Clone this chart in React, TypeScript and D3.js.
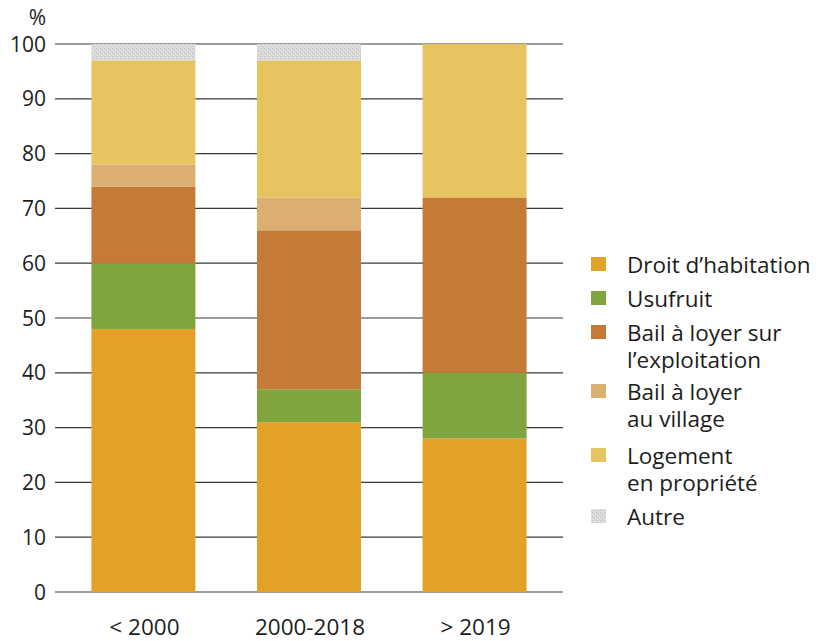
import React from "react";
import * as d3 from "d3";

const categories = ["< 2000", "2000-2018", "> 2019"];
const seriesKeys = ["droit", "usufruit", "bailExpl", "bailVillage", "logement", "autre"];
const seriesLabels = [
  ["Droit d\u2019habitation"],
  ["Usufruit"],
  ["Bail à loyer sur", "l\u2019exploitation"],
  ["Bail à loyer", "au village"],
  ["Logement", "en propriété"],
  ["Autre"],
];
const seriesColors = ["#E3A127", "#80A53E", "#C67A37", "#DAAF71", "#E6C45F", "#D6D6D4"];

// Shares (%) per period, one array per series, in category order
const droit = [48, 31, 28];
const usufruit = [12, 6, 12];
const bailExpl = [14, 29, 32];
const bailVillage = [4, 6, 0];
const logement = [19, 25, 28];
const autre = [3, 3, 0];
const yTicks = [0, 10, 20, 30, 40, 50, 60, 70, 80, 90, 100];

const W = 829;
const H = 641;
const FONT = "'Open Sans', 'Noto Sans', sans-serif";
const INK = "#1d1d1b";

export default function App() {
  const values = [droit, usufruit, bailExpl, bailVillage, logement, autre];
  const rows = categories.map((c, i) => {
    const r: Record<string, any> = { cat: c };
    seriesKeys.forEach((k, j) => (r[k] = values[j][i]));
    return r;
  });
  const stacked = d3.stack<any>().keys(seriesKeys)(rows);

  const x = d3
    .scaleBand<string>()
    .domain(categories)
    .range([55, 563])
    .paddingInner(0.372)
    .paddingOuter(0.22);
  const y = d3.scaleLinear().domain([0, 100]).range([592, 44]);

  const legendX = 591;
  const legendTextX = 627;
  const legendBaselines = [273, 307, 341, 400, 464, 525];
  const lineGap = 26.5;

  return (
    <svg
      width={W}
      height={H}
      style={{ position: "absolute", left: 0, top: 0, background: "#fff" }}
      fontFamily={FONT}
    >
      <defs>
        <pattern id="grain" width="4" height="4" patternUnits="userSpaceOnUse">
          <rect width="4" height="4" fill="#D8D8D6" />
          <rect x="0" y="0" width="1" height="1" fill="#C2C2C0" />
          <rect x="2" y="2" width="1" height="1" fill="#C8C8C6" />
          <rect x="3" y="1" width="1" height="1" fill="#ECECEA" />
          <rect x="1" y="3" width="1" height="1" fill="#EAEAE8" />
        </pattern>
      </defs>

      {/* horizontal gridlines */}
      {yTicks.map((t) => (
        <line key={t} x1={55} x2={563} y1={y(t)} y2={y(t)} stroke="#3a3a3a" strokeWidth={1.2} />
      ))}

      {/* y tick labels */}
      {yTicks.map((t) => (
        <text key={t} x={46} y={y(t) + 7.5} textAnchor="end" fontSize={21} fill={INK}>
          {t}
        </text>
      ))}
      <text x={46} y={25} textAnchor="end" fontSize={21} fill={INK}>
        %
      </text>

      {/* stacked bars */}
      {stacked.map((s, si) =>
        s.map((d, ci) => {
          const h = y(d[0]) - y(d[1]);
          if (h <= 0) return null;
          return (
            <rect
              key={`${si}-${ci}`}
              x={x(categories[ci])}
              y={y(d[1])}
              width={x.bandwidth()}
              height={h}
              fill={seriesKeys[si] === "autre" ? "url(#grain)" : seriesColors[si]}
            />
          );
        })
      )}

      {/* x labels */}
      {categories.map((c) => (
        <text
          key={c}
          x={(x(c) as number) + x.bandwidth() / 2 + 1}
          y={635}
          textAnchor="middle"
          fontSize={22.5}
          fill={INK}
        >
          {c}
        </text>
      ))}

      {/* legend: one text element per entry, wrapped lines as tspans */}
      {seriesKeys.map((k, i) => (
        <g key={k}>
          <rect
            x={legendX}
            y={legendBaselines[i] - 16}
            width={15}
            height={14}
            fill={k === "autre" ? "url(#grain)" : seriesColors[i]}
          />
          <text x={legendTextX} y={legendBaselines[i]} fontSize={22.5} fill={INK}>
            {seriesLabels[i].map((line, li) => (
              <tspan key={li} x={legendTextX} dy={li === 0 ? 0 : lineGap}>
                {line}
              </tspan>
            ))}
          </text>
        </g>
      ))}
    </svg>
  );
}
